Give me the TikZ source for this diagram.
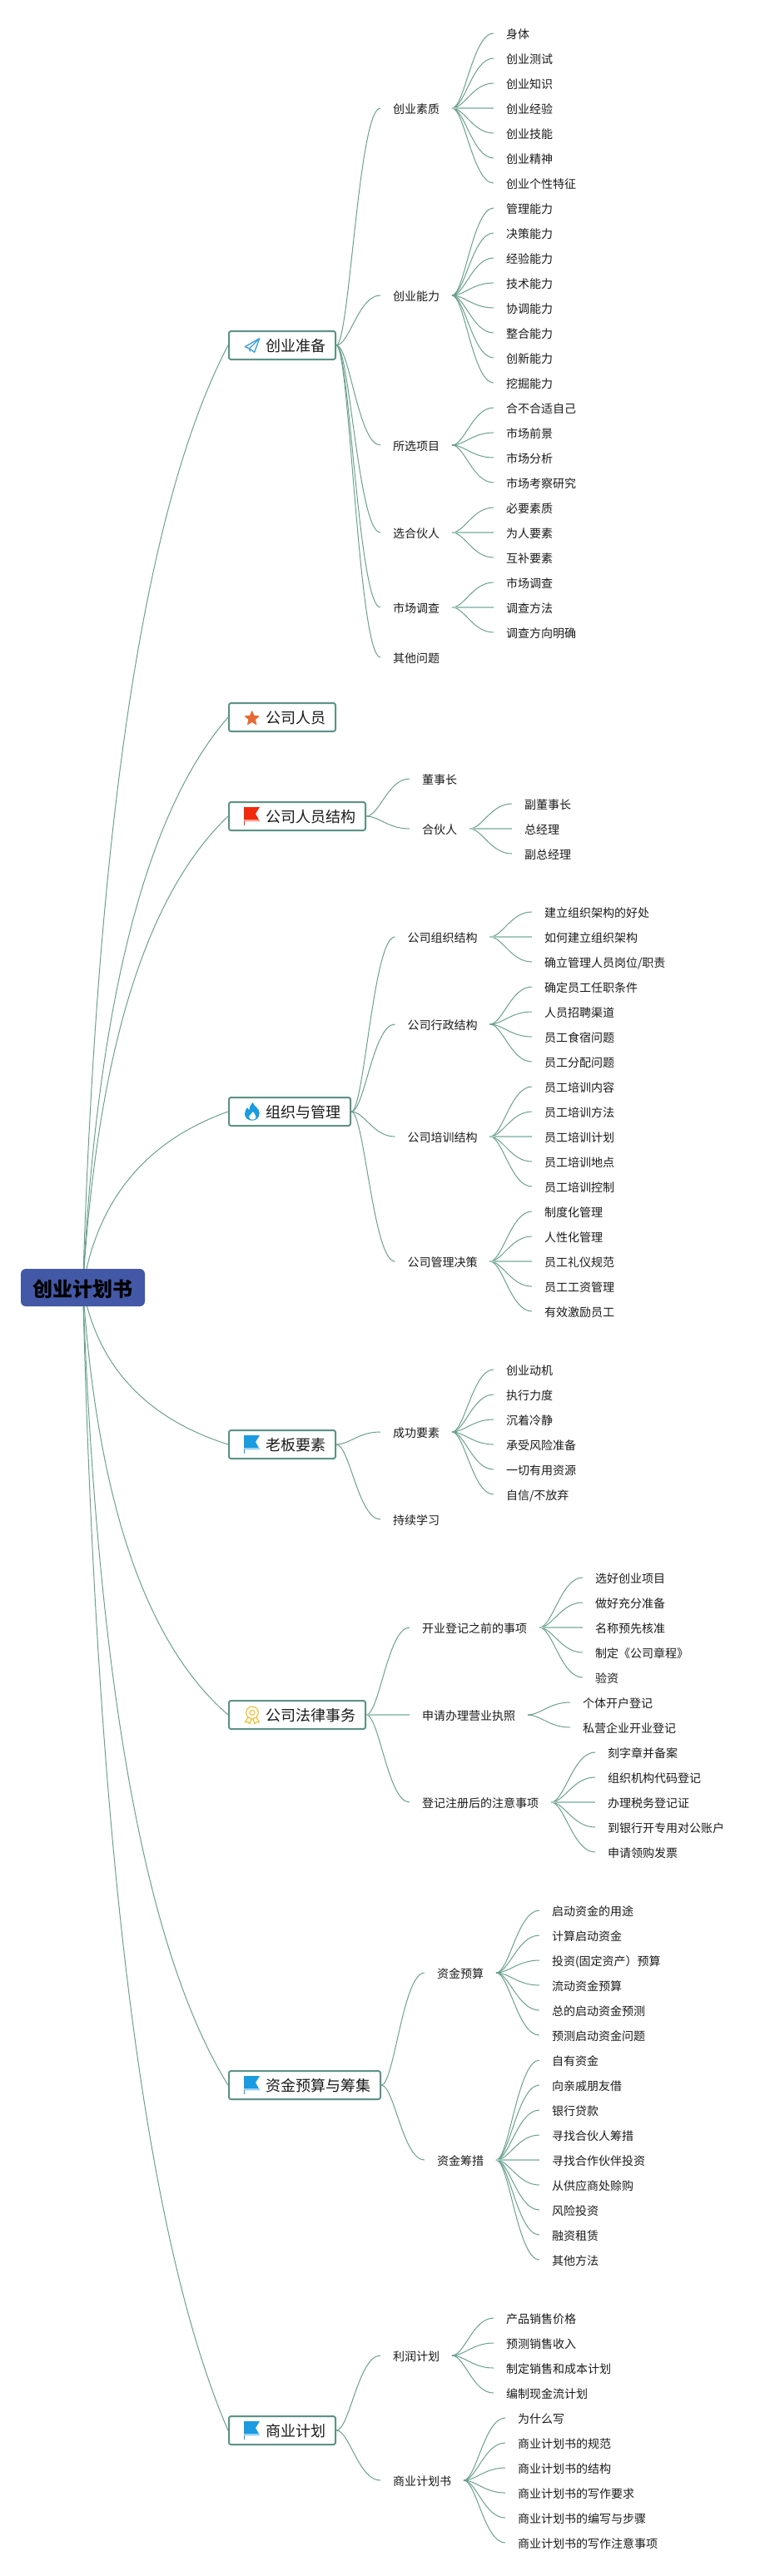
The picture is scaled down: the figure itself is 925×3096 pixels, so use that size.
\documentclass[tikz,border=0pt]{standalone}
\usepackage{fontspec}
\setmainfont{Noto Sans CJK SC}
\usetikzlibrary{calc,backgrounds}
\definecolor{PlanRoot}{RGB}{67,88,166}
\definecolor{PlanGreen}{RGB}{92,147,133}
\definecolor{PlanLine}{RGB}{106,160,143}
\definecolor{PlanPale}{RGB}{163,201,189}
\definecolor{PlanInk}{RGB}{26,26,26}
\definecolor{PlanSky}{RGB}{27,155,224}
\definecolor{PlanPlane}{RGB}{63,162,224}
\definecolor{PlanRed}{RGB}{240,42,14}
\definecolor{PlanOrange}{RGB}{232,106,51}
\definecolor{PlanGold}{RGB}{245,194,66}
\tikzset{
  plan/root/.style={
    fill=PlanRoot,
    rounded corners=6pt,
    text=black,
    inner sep=0pt,
    minimum width=149pt,
    minimum height=45pt,
    text height=23.3pt,
    text depth=1.5pt,
    font=\fontsize{24}{28}\selectfont\bfseries
  },
  plan/topic/.style={
    draw=PlanGreen,
    line width=2pt,
    rounded corners=2.5pt,
    fill=white,
    anchor=west,
    text=PlanInk,
    inner xsep=12pt,
    inner ysep=0pt,
    minimum height=34pt,
    text height=16.9pt,
    text depth=1.5pt,
    font=\fontsize{18}{22}\selectfont
  },
  plan/item/.style={
    anchor=west,
    text=PlanInk,
    inner xsep=15pt,
    inner ysep=0pt,
    outer sep=0pt,
    text height=13.4pt,
    text depth=1pt,
    font=\fontsize{14}{16}\selectfont
  },
  plan/trunk/.style={
    draw=PlanLine,
    line width=1pt,
    to path={let \p1=(\tikztostart),\p2=(\tikztotarget) in
      .. controls ({\x1+.1*(\x2-\x1)},{\y1+.5*(\y2-\y1)}) and ({\x1+.433*(\x2-\x1)},{\y1+.833*(\y2-\y1)}) .. (\tikztotarget)}
  },
  plan/twig/.style={
    draw=PlanLine,
    line width=1pt,
    to path={let \p1=(\tikztostart),\p2=(\tikztotarget) in
      .. controls ({\x1+.3*(\x2-\x1)},\y1) and ({\x1+.5*(\x2-\x1)},\y2) .. (\tikztotarget)}
  },
  plan/mid/.style={draw=PlanPale, line width=2pt},
  flagicon/.pic={
    \fill[#1] (-10,-11) -- (9,-11) -- (4,-3) -- (9,6) -- (-10,6) -- cycle;
    \fill[#1!45!white] (-10,4) -- (7.9,4) -- (9,6) -- (-10,6) -- cycle;
    \draw[#1,line width=.8pt] (-9.6,6) -- (-9.6,10.5);
  },
  planeicon/.pic={
    \draw[PlanPlane,line width=1.4pt,line join=round] (8.7,-8.3) -- (-8.6,1.7) -- (-3.5,4) -- (2.7,8.3) -- cycle;
    \draw[PlanPlane,line width=1.2pt] (8.7,-8.3) -- (-3.5,4) -- (-2.5,7.5);
  },
  stariconx/.pic={
    \fill[PlanOrange,rounded corners=.8pt] (-90:10) -- (-54:4.4) -- (-18:10) -- (18:4.4) -- (54:10) -- (90:4.4) -- (126:10) -- (162:4.4) -- (198:10) -- (234:4.4) -- cycle;
  },
  flameicon/.pic={
    \fill[PlanSky] (.7,-11) .. controls (2,-6) and (9,-4) .. (8.7,2) .. controls (8.7,7) and (5,10.7) .. (0,10.7) .. controls (-5.5,10.7) and (-9,7) .. (-9,2.5) .. controls (-9,-1) and (-7,-3) .. (-6,-5) .. controls (-5,-3) and (-4.5,-2.5) .. (-3.5,-2) .. controls (-3.5,-6) and (-1.5,-9) .. (.7,-11) -- cycle;
    \fill[white] (1,0) .. controls (1.5,2) and (4.5,3.5) .. (4.5,6.5) .. controls (4.5,8.5) and (3,9.7) .. (.5,9.7) .. controls (-2,9.7) and (-3.8,8.5) .. (-3.8,6.5) .. controls (-3.8,4) and (0,2.5) .. (1,0) -- cycle;
  },
  medalicon/.pic={
    \draw[PlanGold,line width=1.3pt] (0,-2.7) circle (7.3);
    \draw[PlanGold,line width=1.2pt] (0,-2.7) circle (3);
    \draw[PlanGold,line width=1.3pt,line join=round] (-5,3) -- (-8.5,9) -- (-5,8.6) -- (-3,10.6) -- (-.8,5);
    \draw[PlanGold,line width=1.3pt,line join=round] (5,3) -- (8.5,9) -- (5,8.6) -- (3,10.6) -- (.8,5);
  }
}
\begin{document}
\begin{tikzpicture}[x=1pt,y=-1pt]
  \useasboundingbox (0,0) rectangle (925,3096);
  \node[plan/root] (root) at (99.5,1547.5) {创业计划书};

  % first topic
  \node[plan/topic] (zhunbei) at (274,415) {\hspace*{32pt}创业准备};
  \pic at (303,415) {planeicon};
  \node[plan/item] (suzhi) at (457,130) {创业素质};
  \node[plan/item] (suzhia) at (593,40) {身体};
  \node[plan/item] (suzhib) at (593,70) {创业测试};
  \node[plan/item] (suzhic) at (593,100) {创业知识};
  \node[plan/item] (suzhid) at (593,130) {创业经验};
  \node[plan/item] (suzhie) at (593,160) {创业技能};
  \node[plan/item] (suzhif) at (593,190) {创业精神};
  \node[plan/item] (suzhig) at (593,220) {创业个性特征};
  \node[plan/item] (nengli) at (457,355) {创业能力};
  \node[plan/item] (nenglia) at (593,250) {管理能力};
  \node[plan/item] (nenglib) at (593,280) {决策能力};
  \node[plan/item] (nenglic) at (593,310) {经验能力};
  \node[plan/item] (nenglid) at (593,340) {技术能力};
  \node[plan/item] (nenglie) at (593,370) {协调能力};
  \node[plan/item] (nenglif) at (593,400) {整合能力};
  \node[plan/item] (nenglig) at (593,430) {创新能力};
  \node[plan/item] (nenglih) at (593,460) {挖掘能力};
  \node[plan/item] (xiangmu) at (457,535) {所选项目};
  \node[plan/item] (xiangmua) at (593,490) {合不合适自己};
  \node[plan/item] (xiangmub) at (593,520) {市场前景};
  \node[plan/item] (xiangmuc) at (593,550) {市场分析};
  \node[plan/item] (xiangmud) at (593,580) {市场考察研究};
  \node[plan/item] (huoban) at (457,640) {选合伙人};
  \node[plan/item] (huobana) at (593,610) {必要素质};
  \node[plan/item] (huobanb) at (593,640) {为人要素};
  \node[plan/item] (huobanc) at (593,670) {互补要素};
  \node[plan/item] (diaocha) at (457,730) {市场调查};
  \node[plan/item] (diaochaa) at (593,700) {市场调查};
  \node[plan/item] (diaochab) at (593,730) {调查方法};
  \node[plan/item] (diaochac) at (593,760) {调查方向明确};
  \node[plan/item] (qita) at (457,790) {其他问题};
  \draw[plan/twig] (zhunbei.east) edge (suzhi.west) edge (nengli.west) edge (xiangmu.west) edge (huoban.west) edge (diaocha.west) edge (qita.west);
  \draw[plan/twig] (suzhi.east) edge (suzhia.west) edge (suzhib.west) edge (suzhic.west) edge (suzhie.west) edge (suzhif.west) edge (suzhig.west);
  \draw[plan/mid] (suzhi.east) -- (suzhid.west);
  \draw[plan/twig] (nengli.east) edge (nenglia.west) edge (nenglib.west) edge (nenglic.west) edge (nenglid.west) edge (nenglie.west) edge (nenglif.west) edge (nenglig.west) edge (nenglih.west);
  \draw[plan/twig] (xiangmu.east) edge (xiangmua.west) edge (xiangmub.west) edge (xiangmuc.west) edge (xiangmud.west);
  \draw[plan/twig] (huoban.east) edge (huobana.west) edge (huobanc.west);
  \draw[plan/mid] (huoban.east) -- (huobanb.west);
  \draw[plan/twig] (diaocha.east) edge (diaochaa.west) edge (diaochac.west);
  \draw[plan/mid] (diaocha.east) -- (diaochab.west);

  % second and third topic
  \node[plan/topic] (renyuan) at (274,862) {\hspace*{32pt}公司人员};
  \pic at (302.7,863.5) {stariconx};
  \node[plan/topic] (jiegou) at (274,981) {\hspace*{32pt}公司人员结构};
  \pic at (303,981) {flagicon=PlanRed};
  \node[plan/item] (dongshi) at (492,936) {董事长};
  \node[plan/item] (hehuo) at (492,996) {合伙人};
  \node[plan/item] (hehuoa) at (615,966) {副董事长};
  \node[plan/item] (hehuob) at (615,996) {总经理};
  \node[plan/item] (hehuoc) at (615,1026) {副总经理};
  \draw[plan/twig] (jiegou.east) edge (dongshi.west) edge (hehuo.west);
  \draw[plan/twig] (hehuo.east) edge (hehuoa.west) edge (hehuoc.west);
  \draw[plan/mid] (hehuo.east) -- (hehuob.west);

  % fourth topic
  \node[plan/topic] (guanli) at (274,1336) {\hspace*{32pt}组织与管理};
  \pic at (303,1336) {flameicon};
  \node[plan/item] (zuzhi) at (474.5,1126) {公司组织结构};
  \node[plan/item] (zuzhia) at (639,1096) {建立组织架构的好处};
  \node[plan/item] (zuzhib) at (639,1126) {如何建立组织架构};
  \node[plan/item] (zuzhic) at (639,1156) {确立管理人员岗位/职责};
  \node[plan/item] (xingzheng) at (474.5,1231) {公司行政结构};
  \node[plan/item] (xingzhenga) at (639,1186) {确定员工任职条件};
  \node[plan/item] (xingzhengb) at (639,1216) {人员招聘渠道};
  \node[plan/item] (xingzhengc) at (639,1246) {员工食宿问题};
  \node[plan/item] (xingzhengd) at (639,1276) {员工分配问题};
  \node[plan/item] (peixun) at (474.5,1366) {公司培训结构};
  \node[plan/item] (peixuna) at (639,1306) {员工培训内容};
  \node[plan/item] (peixunb) at (639,1336) {员工培训方法};
  \node[plan/item] (peixunc) at (639,1366) {员工培训计划};
  \node[plan/item] (peixund) at (639,1396) {员工培训地点};
  \node[plan/item] (peixune) at (639,1426) {员工培训控制};
  \node[plan/item] (juece) at (474.5,1516) {公司管理决策};
  \node[plan/item] (juecea) at (639,1456) {制度化管理};
  \node[plan/item] (jueceb) at (639,1486) {人性化管理};
  \node[plan/item] (juecec) at (639,1516) {员工礼仪规范};
  \node[plan/item] (jueced) at (639,1546) {员工工资管理};
  \node[plan/item] (juecee) at (639,1576) {有效激励员工};
  \draw[plan/twig] (guanli.east) edge (zuzhi.west) edge (xingzheng.west) edge (peixun.west) edge (juece.west);
  \draw[plan/twig] (zuzhi.east) edge (zuzhia.west) edge (zuzhic.west);
  \draw[plan/mid] (zuzhi.east) -- (zuzhib.west);
  \draw[plan/twig] (xingzheng.east) edge (xingzhenga.west) edge (xingzhengb.west) edge (xingzhengc.west) edge (xingzhengd.west);
  \draw[plan/twig] (peixun.east) edge (peixuna.west) edge (peixunb.west) edge (peixund.west) edge (peixune.west);
  \draw[plan/mid] (peixun.east) -- (peixunc.west);
  \draw[plan/twig] (juece.east) edge (juecea.west) edge (jueceb.west) edge (jueced.west) edge (juecee.west);
  \draw[plan/mid] (juece.east) -- (juecec.west);

  % fifth topic
  \node[plan/topic] (laoban) at (274,1736) {\hspace*{32pt}老板要素};
  \pic at (303,1736) {flagicon=PlanSky};
  \node[plan/item] (chenggong) at (457,1721) {成功要素};
  \node[plan/item] (chenggonga) at (593,1646) {创业动机};
  \node[plan/item] (chenggongb) at (593,1676) {执行力度};
  \node[plan/item] (chenggongc) at (593,1706) {沉着冷静};
  \node[plan/item] (chenggongd) at (593,1736) {承受风险准备};
  \node[plan/item] (chenggonge) at (593,1766) {一切有用资源};
  \node[plan/item] (chenggongf) at (593,1796) {自信/不放弃};
  \node[plan/item] (xuexi) at (457,1826) {持续学习};
  \draw[plan/twig] (laoban.east) edge (chenggong.west) edge (xuexi.west);
  \draw[plan/twig] (chenggong.east) edge (chenggonga.west) edge (chenggongb.west) edge (chenggongc.west) edge (chenggongd.west) edge (chenggonge.west) edge (chenggongf.west);

  % sixth topic
  \node[plan/topic] (falv) at (274,2061) {\hspace*{32pt}公司法律事务};
  \pic at (303,2061) {medalicon};
  \node[plan/item] (kaiye) at (492,1956) {开业登记之前的事项};
  \node[plan/item] (kaiyea) at (700,1896) {选好创业项目};
  \node[plan/item] (kaiyeb) at (700,1926) {做好充分准备};
  \node[plan/item] (kaiyec) at (700,1956) {名称预先核准};
  \node[plan/item] (kaiyed) at (700,1986) {制定《公司章程》};
  \node[plan/item] (kaiyee) at (700,2016) {验资};
  \node[plan/item] (zhizhao) at (492,2061) {申请办理营业执照};
  \node[plan/item] (zhizhaoa) at (685,2046) {个体开户登记};
  \node[plan/item] (zhizhaob) at (685,2076) {私营企业开业登记};
  \node[plan/item] (zhuce) at (492,2166) {登记注册后的注意事项};
  \node[plan/item] (zhucea) at (715,2106) {刻字章并备案};
  \node[plan/item] (zhuceb) at (715,2136) {组织机构代码登记};
  \node[plan/item] (zhucec) at (715,2166) {办理税务登记证};
  \node[plan/item] (zhuced) at (715,2196) {到银行开专用对公账户};
  \node[plan/item] (zhucee) at (715,2226) {申请领购发票};
  \draw[plan/twig] (falv.east) edge (kaiye.west) edge (zhuce.west);
  \draw[plan/mid] (falv.east) -- (zhizhao.west);
  \draw[plan/twig] (kaiye.east) edge (kaiyea.west) edge (kaiyeb.west) edge (kaiyed.west) edge (kaiyee.west);
  \draw[plan/mid] (kaiye.east) -- (kaiyec.west);
  \draw[plan/twig] (zhizhao.east) edge (zhizhaoa.west) edge (zhizhaob.west);
  \draw[plan/twig] (zhuce.east) edge (zhucea.west) edge (zhuceb.west) edge (zhuced.west) edge (zhucee.west);
  \draw[plan/mid] (zhuce.east) -- (zhucec.west);

  % seventh topic
  \node[plan/topic] (zijin) at (274,2506) {\hspace*{32pt}资金预算与筹集};
  \pic at (303,2506) {flagicon=PlanSky};
  \node[plan/item] (yusuan) at (510,2371) {资金预算};
  \node[plan/item] (yusuana) at (648,2296) {启动资金的用途};
  \node[plan/item] (yusuanb) at (648,2326) {计算启动资金};
  \node[plan/item] (yusuanc) at (648,2356) {投资(固定资产）预算};
  \node[plan/item] (yusuand) at (648,2386) {流动资金预算};
  \node[plan/item] (yusuane) at (648,2416) {总的启动资金预测};
  \node[plan/item] (yusuanf) at (648,2446) {预测启动资金问题};
  \node[plan/item] (choucuo) at (510,2596) {资金筹措};
  \node[plan/item] (choucuoa) at (648,2476) {自有资金};
  \node[plan/item] (choucuob) at (648,2506) {向亲戚朋友借};
  \node[plan/item] (choucuoc) at (648,2536) {银行贷款};
  \node[plan/item] (choucuod) at (648,2566) {寻找合伙人筹措};
  \node[plan/item] (choucuoe) at (648,2596) {寻找合作伙伴投资};
  \node[plan/item] (choucuof) at (648,2626) {从供应商处赊购};
  \node[plan/item] (choucuog) at (648,2656) {风险投资};
  \node[plan/item] (choucuoh) at (648,2686) {融资租赁};
  \node[plan/item] (choucuoi) at (648,2716) {其他方法};
  \draw[plan/twig] (zijin.east) edge (yusuan.west) edge (choucuo.west);
  \draw[plan/twig] (yusuan.east) edge (yusuana.west) edge (yusuanb.west) edge (yusuanc.west) edge (yusuand.west) edge (yusuane.west) edge (yusuanf.west);
  \draw[plan/twig] (choucuo.east) edge (choucuoa.west) edge (choucuob.west) edge (choucuoc.west) edge (choucuod.west) edge (choucuof.west) edge (choucuog.west) edge (choucuoh.west) edge (choucuoi.west);
  \draw[plan/mid] (choucuo.east) -- (choucuoe.west);

  % last topic
  \node[plan/topic] (shangye) at (274,2921) {\hspace*{32pt}商业计划};
  \pic at (303,2921) {flagicon=PlanSky};
  \node[plan/item] (lirun) at (457,2831) {利润计划};
  \node[plan/item] (liruna) at (593,2786) {产品销售价格};
  \node[plan/item] (lirunb) at (593,2816) {预测销售收入};
  \node[plan/item] (lirunc) at (593,2846) {制定销售和成本计划};
  \node[plan/item] (lirund) at (593,2876) {编制现金流计划};
  \node[plan/item] (jihua) at (457,2981) {商业计划书};
  \node[plan/item] (jihuaa) at (607,2906) {为什么写};
  \node[plan/item] (jihuab) at (607,2936) {商业计划书的规范};
  \node[plan/item] (jihuac) at (607,2966) {商业计划书的结构};
  \node[plan/item] (jihuad) at (607,2996) {商业计划书的写作要求};
  \node[plan/item] (jihuae) at (607,3026) {商业计划书的编写与步骤};
  \node[plan/item] (jihuaf) at (607,3056) {商业计划书的写作注意事项};
  \draw[plan/twig] (shangye.east) edge (lirun.west) edge (jihua.west);
  \draw[plan/twig] (lirun.east) edge (liruna.west) edge (lirunb.west) edge (lirunc.west) edge (lirund.west);
  \draw[plan/twig] (jihua.east) edge (jihuaa.west) edge (jihuab.west) edge (jihuac.west) edge (jihuad.west) edge (jihuae.west) edge (jihuaf.west);

  \begin{scope}[on background layer]
    \draw[plan/trunk] (root.center) edge (zhunbei.west) edge (renyuan.west) edge (jiegou.west) edge (guanli.west) edge (laoban.west) edge (falv.west) edge (zijin.west) edge (shangye.west);
  \end{scope}
\end{tikzpicture}
\end{document}
